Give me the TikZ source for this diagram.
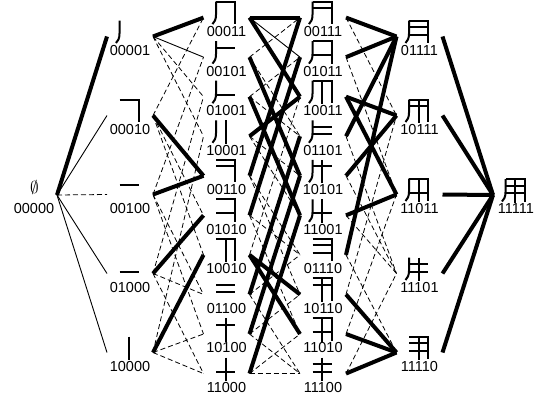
\documentclass[tikz,border=0pt]{standalone}
\usepackage{fontspec}
\setmainfont{Liberation Sans}

% strokes of the character, selected by the five bits b5 b4 b3 b2 b1
\def\yongi#1#2#3#4#5\relax{%
  \begin{scope}[shift={(n#1#2#3#4#5.center)}]
    \ifnum#5=1 \draw[glyphline] (-10.5,-16) -- (-10.5,-3) .. controls (-10.5,2) and (-12,4.5) .. (-14,6.5);\fi
    \ifnum#4=1 \draw[glyphline] (-10.5,-16) -- (8.5,-16) -- (8.5,6.5);\fi
    \ifnum#3=1 \draw[glyphline] (-10.5,-9.5) -- (8.5,-9.5);\fi
    \ifnum#2=1 \draw[glyphline] (-10.5,-2) -- (8.5,-2);\fi
    \ifnum#1=1 \draw[glyphline] (-1,-16) -- (-1,7.5);\fi
  \end{scope}}
\newcommand\yong[1]{\edef\tmpbits{#1}\expandafter\yongi\tmpbits\relax}

\begin{document}
\begin{tikzpicture}[x=1pt,y=-1pt,
  vert/.style={inner sep=0pt,outer sep=0pt,minimum width=46pt,minimum height=0pt},
  lbl/.style={font=\fontsize{14.5}{16}\selectfont,inner sep=0pt},
  glyphline/.style={line width=2pt},
  strong/.style={line width=4pt},
  weak/.style={line width=0.9pt},
  faint/.style={line width=0.8pt,dash pattern=on 5pt off 3pt}]
\useasboundingbox (0,0) rectangle (543,397);

% vertices of the lattice
\node[vert] (n00000) at (34,195) {};
\foreach \b [count=\k from 0] in {00001,00010,00100,01000,10000}
  \node[vert] (n\b) at (130,36.5+79*\k) {};
\foreach \b [count=\k from 0] in {00011,00101,01001,10001,00110,01010,10010,01100,10100,11000}
  \node[vert] (n\b) at (226.5,17.6+39.55*\k) {};
\foreach \b [count=\k from 0] in {00111,01011,10011,01101,10101,11001,01110,10110,11010,11100}
  \node[vert] (n\b) at (323,17.6+39.55*\k) {};
\foreach \b [count=\k from 0] in {01111,10111,11011,11101,11110}
  \node[vert] (n\b) at (419.5,36.5+79*\k) {};
\node[vert] (n11111) at (516,195) {};

% dashed edges
\foreach \a/\b in {00000/00100,
  00001/01001,00001/10001,00010/00011,00010/01010,00010/10010,00100/00101,00100/01100,00100/10100,
  01000/01001,01000/01100,01000/11000,10000/10001,10000/10100,10000/11000,
  00101/00111,00101/01101,01001/01011,01001/01101,10001/10101,10001/11001,
  00110/01110,00110/10110,01010/01110,01010/11010,10010/10011,01100/01110,01100/11100,
  10100/10110,10100/11100,11000/11010,11000/11100,
  00111/10111,01011/11011,01101/11101,10101/11101,11001/11101,01110/11110,
  10110/10111,11010/11011,11100/11101}
  \draw[faint] (n\a.east) -- (n\b.west);

% thin edges
\foreach \a/\b in {00000/00010,00000/01000,00000/10000,00001/00101,00011/01011}
  \draw[weak] (n\a.east) -- (n\b.west);

% heavy edges
\foreach \a/\b in {00000/00001,
  00001/00011,00010/00110,00100/00110,01000/01010,10000/10010,
  00011/00111,00011/10011,10001/10011,00110/00111,00101/10101,01001/11001,
  01010/01011,10010/10110,10010/11010,01100/01101,10100/10101,11000/11001,
  00111/01111,01011/01111,01101/01111,01110/01111,10011/10111,10101/10111,
  10011/11011,11001/11011,10110/11110,11010/11110,11100/11110,
  01111/11111,10111/11111,11011/11111,11101/11111,11110/11111}
  \draw[strong] (n\a.east) -- (n\b.west);

% partial characters and bit labels
\foreach \b in {00001,00010,00100,01000,10000,
  00011,00101,01001,10001,00110,01010,10010,01100,10100,11000,
  00111,01011,10011,01101,10101,11001,01110,10110,11010,11100,
  01111,10111,11011,11101,11110,11111} {
  \yong{\b}
  \node[lbl] at ([yshift=-14pt]n\b.center) {\b};
}
\node[lbl] at ([yshift=-14pt]n00000.center) {00000};
\node[inner sep=0pt,font=\fontsize{19}{20}\selectfont] at (34.5,187) {$\emptyset$};
\end{tikzpicture}
\end{document}
